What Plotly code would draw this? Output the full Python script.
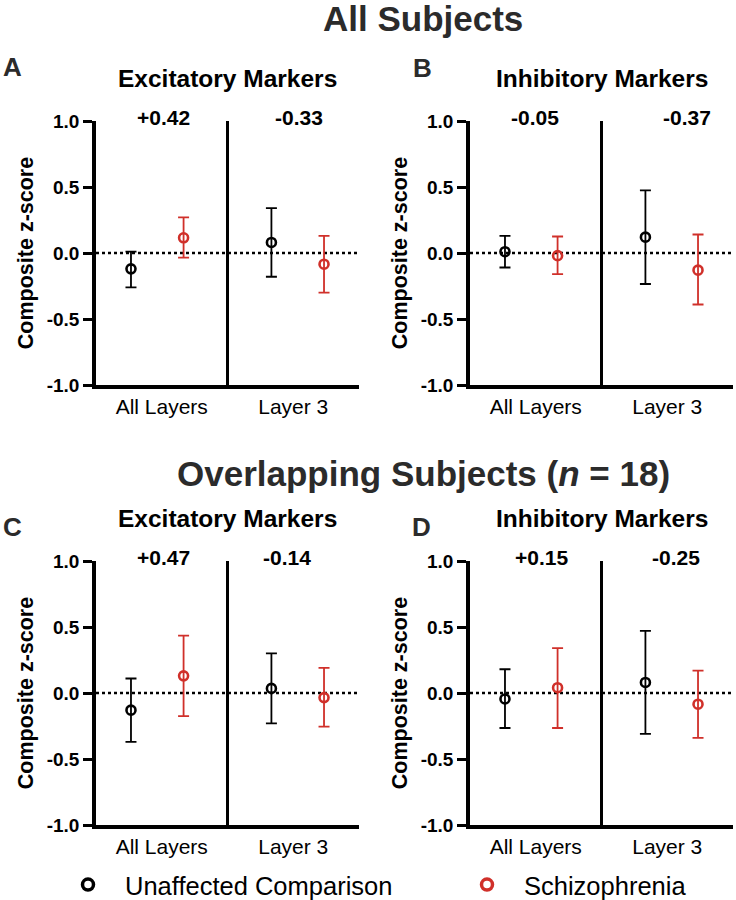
import plotly.graph_objects as go

# ---------------- data ----------------
categories = ["All Layers", "Layer 3"]
groups = ["Unaffected Comparison", "Schizophrenia"]

# Panel A: All subjects, excitatory markers
A_uc_mean = [-0.12, 0.08]
A_uc_hi = [0.01, 0.34]
A_uc_lo = [-0.26, -0.18]
A_sz_mean = [0.115, -0.085]
A_sz_hi = [0.27, 0.13]
A_sz_lo = [-0.035, -0.30]
A_diff = ["+0.42", "-0.33"]

# Panel B: All subjects, inhibitory markers
B_uc_mean = [0.01, 0.12]
B_uc_hi = [0.13, 0.475]
B_uc_lo = [-0.11, -0.235]
B_sz_mean = [-0.02, -0.13]
B_sz_hi = [0.125, 0.14]
B_sz_lo = [-0.16, -0.39]
B_diff = ["-0.05", "-0.37"]

# Panel C: Overlapping subjects, excitatory markers
C_uc_mean = [-0.13, 0.035]
C_uc_hi = [0.11, 0.30]
C_uc_lo = [-0.37, -0.23]
C_sz_mean = [0.13, -0.035]
C_sz_hi = [0.435, 0.19]
C_sz_lo = [-0.175, -0.255]
C_diff = ["+0.47", "-0.14"]

# Panel D: Overlapping subjects, inhibitory markers
D_uc_mean = [-0.045, 0.08]
D_uc_hi = [0.18, 0.47]
D_uc_lo = [-0.265, -0.31]
D_sz_mean = [0.04, -0.085]
D_sz_hi = [0.34, 0.17]
D_sz_lo = [-0.265, -0.34]
D_diff = ["+0.15", "-0.25"]

ytick_vals = [-1.0, -0.5, 0.0, 0.5, 1.0]
ytick_text = ["-1.0", "-0.5", "0.0", "0.5", "1.0"]

# ---------------- style ----------------
W, H = 736, 900
FONT = "Liberation Sans"
BLACK = "#000000"
RED = "#d0302a"
DARK = "#2b2b2b"

group_centers = [2.33, 7.67]
dodge = 1.0
label_pos = [2.5, 7.5]
divider_x = 5.0

def px_x(p):
    return p / W

def px_y(p):
    return 1 - p / H

panels = [
    dict(key="A", uc=(A_uc_mean, A_uc_hi, A_uc_lo), sz=(A_sz_mean, A_sz_hi, A_sz_lo), diff=A_diff,
         title="Excitatory Markers", xd=(96, 359), yd=(121, 385), diffpos=[2.55, 7.72],
         title_c=227, title_y=79, letter=(13, 67)),
    dict(key="B", uc=(B_uc_mean, B_uc_hi, B_uc_lo), sz=(B_sz_mean, B_sz_hi, B_sz_lo), diff=B_diff,
         title="Inhibitory Markers", xd=(470, 733), yd=(121, 385), diffpos=[2.47, 8.25],
         title_c=602, title_y=79, letter=(422, 68)),
    dict(key="C", uc=(C_uc_mean, C_uc_hi, C_uc_lo), sz=(C_sz_mean, C_sz_hi, C_sz_lo), diff=C_diff,
         title="Excitatory Markers", xd=(96, 359), yd=(561, 825), diffpos=[2.55, 7.26],
         title_c=227, title_y=518, letter=(12, 527)),
    dict(key="D", uc=(D_uc_mean, D_uc_hi, D_uc_lo), sz=(D_sz_mean, D_sz_hi, D_sz_lo), diff=D_diff,
         title="Inhibitory Markers", xd=(470, 733), yd=(561, 825), diffpos=[2.70, 7.83],
         title_c=602, title_y=518, letter=(421, 527)),
]

fig = go.Figure()
annotations = []
shapes = []

for i, p in enumerate(panels):
    n = i + 1
    xa = "x" if n == 1 else f"x{n}"
    ya = "y" if n == 1 else f"y{n}"
    xkey = "xaxis" if n == 1 else f"xaxis{n}"
    ykey = "yaxis" if n == 1 else f"yaxis{n}"

    for gi, (gname, color, data) in enumerate([(groups[0], BLACK, p["uc"]), (groups[1], RED, p["sz"])]):
        mean, hi, lo = data
        xs = [c + (-dodge if gi == 0 else dodge) for c in group_centers]
        fig.add_trace(go.Scatter(
            x=xs, y=mean, mode="markers", name=gname,
            legendgroup=gname, showlegend=False,
            xaxis=xa, yaxis=ya,
            marker=dict(symbol="circle-open", size=9, color=color,
                        line=dict(width=2.6, color=color)),
            error_y=dict(type="data", symmetric=False,
                         array=[h - m for h, m in zip(hi, mean)],
                         arrayminus=[m - l for m, l in zip(mean, lo)],
                         color=color, thickness=1.8, width=5.5),
        ))

    fig.update_layout(**{
        xkey: dict(domain=[px_x(p["xd"][0]), px_x(p["xd"][1])], range=[0, 10],
                   anchor=ya, showline=True, linewidth=3.5, linecolor=BLACK,
                   showgrid=False, zeroline=False, fixedrange=True, automargin=False,
                   tickvals=label_pos, ticktext=categories,
                   ticks="", tickfont=dict(family=FONT, size=21, color=BLACK)),
        ykey: dict(domain=[px_y(p["yd"][1]), px_y(p["yd"][0])], range=[-1, 1],
                   anchor=xa, showline=True, linewidth=3.5, linecolor=BLACK,
                   showgrid=False, zeroline=False, fixedrange=True, automargin=False,
                   tickvals=ytick_vals, ticktext=ytick_text,
                   ticks="outside", ticklen=9, tickwidth=3, tickcolor=BLACK,
                   tickfont=dict(family=FONT, size=19, color=BLACK, weight="bold"),
                   title=dict(text="Composite z-score", standoff=8,
                              font=dict(family=FONT, size=21.5, color=BLACK, weight="bold"))),
    })

    # dotted zero line
    shapes.append(dict(type="line", xref=f"{xa} domain", x0=0, x1=1, yref=ya, y0=0, y1=0,
                       line=dict(color=BLACK, width=2.5, dash="dot"), layer="below"))
    # divider
    shapes.append(dict(type="line", xref=xa, x0=divider_x, x1=divider_x, yref=ya, y0=-1.035, y1=1.0,
                       line=dict(color=BLACK, width=3), layer="above"))

    # difference labels
    for d, xp in zip(p["diff"], p["diffpos"]):
        annotations.append(dict(text=d, xref=xa, x=xp, yref="paper",
                                y=px_y(p["yd"][0] - 4), yanchor="middle", xanchor="center",
                                showarrow=False, font=dict(family=FONT, size=21, color=BLACK, weight="bold")))
    # panel title
    annotations.append(dict(text=p["title"], xref="paper", x=px_x(p["title_c"]), yref="paper",
                            y=px_y(p["title_y"]), xanchor="center", yanchor="middle", showarrow=False,
                            font=dict(family=FONT, size=24.5, color=BLACK, weight="bold")))
    # panel letter
    annotations.append(dict(text=p["key"], xref="paper", x=px_x(p["letter"][0]), yref="paper",
                            y=px_y(p["letter"][1]), xanchor="center", yanchor="middle", showarrow=False,
                            font=dict(family=FONT, size=26, color=DARK, weight="bold")))

# legend entries (legend-only traces, no data points)
for gi, (gname, color) in enumerate([(groups[0], BLACK), (groups[1], RED)]):
    fig.add_trace(go.Scatter(
        x=[None], y=[None], mode="markers", name=gname, legendgroup=gname,
        showlegend=True, legend="legend" if gi == 0 else "legend2",
        marker=dict(symbol="circle-open", size=11, color=color, line=dict(width=3.5, color=color)),
    ))

# section headings
annotations.append(dict(text="All Subjects", xref="paper", x=px_x(321), yref="paper", y=px_y(18),
                        xanchor="left", yanchor="middle", showarrow=False,
                        font=dict(family=FONT, size=35, color=DARK, weight="bold")))
annotations.append(dict(text="Overlapping Subjects (<i>n</i> = 18)", xref="paper", x=px_x(175), yref="paper",
                        y=px_y(474), xanchor="left", yanchor="middle", showarrow=False,
                        font=dict(family=FONT, size=35, color=DARK, weight="bold")))

leg_common = dict(orientation="h", yanchor="middle", y=px_y(885), xanchor="left",
                  font=dict(family=FONT, size=25.5, color=BLACK),
                  itemwidth=64, bgcolor="rgba(0,0,0,0)",
                  itemclick=False, itemdoubleclick=False)

fig.update_layout(
    template="none",
    width=W, height=H, autosize=False,
    margin=dict(l=0, r=0, t=0, b=0, autoexpand=False),
    paper_bgcolor="white", plot_bgcolor="white",
    font=dict(family=FONT, color=BLACK),
    shapes=shapes, annotations=annotations,
    showlegend=True,
    legend=dict(x=px_x(51), **leg_common),
    legend2=dict(x=px_x(450), **leg_common),
)

# remove the browser's default 8px page margin so the figure sits at the window origin
fig.write_html("out.html", config={"displayModeBar": False},
               post_script="document.body.style.margin='0px';")
